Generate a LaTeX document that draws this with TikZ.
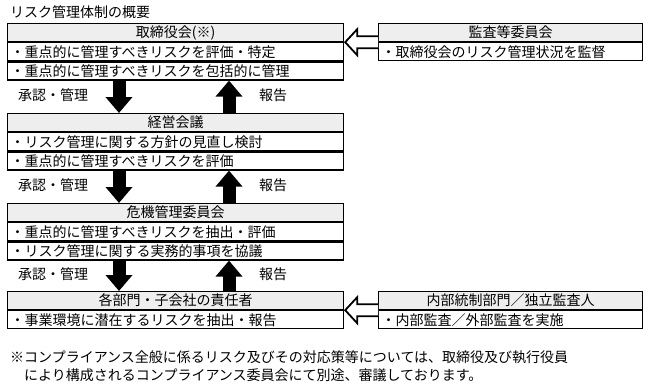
\documentclass[tikz,border=0pt]{standalone}
\usepackage{fontspec}
\setmainfont{Noto Sans CJK JP}
\usetikzlibrary{arrows.meta,calc}
\definecolor{hdrgray}{RGB}{238,238,238}
\begin{document}
\begin{tikzpicture}[x=1pt,y=-1pt,
  every node/.style={font=\fontsize{14}{16}\selectfont, inner sep=0pt},
  hdr/.style={draw, line width=1.2pt, fill=hdrgray, anchor=north west, minimum height=18pt, align=center},
  row/.style={draw, line width=1.2pt, anchor=north west, minimum height=18pt, inner xsep=3pt, align=left},
  solidarr/.style={line width=13pt, -{Triangle[width=26pt,length=16pt]}},
  hollow/.style={draw, line width=1.8pt, fill=white, line join=miter}]
\useasboundingbox (0,0) rectangle (648,389);

\node[anchor=west] (title) at (10,12) {リスク管理体制の概要};

% Box 1
\node[hdr, minimum width=336pt] (b1h) at (7,23) {取締役会(※)};
\node[row, text width=330pt] (b1r1) at (b1h.south west) {・重点的に管理すべきリスクを評価・特定};
\node[row, text width=330pt] (b1r2) at (b1r1.south west) {・重点的に管理すべきリスクを包括的に管理};

% Audit box
\node[hdr, minimum width=264pt] (ah) at (378,23) {監査等委員会};
\node[row, text width=258pt] (ar1) at (ah.south west) {・取締役会のリスク管理状況を監督};

% Box 2
\node[hdr, minimum width=336pt] (b2h) at (7,113) {経営会議};
\node[row, text width=330pt] (b2r1) at (b2h.south west) {・リスク管理に関する方針の見直し検討};
\node[row, text width=330pt] (b2r2) at (b2r1.south west) {・重点的に管理すべきリスクを評価};

% Box 3
\node[hdr, minimum width=336pt] (b3h) at (7,203) {危機管理委員会};
\node[row, text width=330pt] (b3r1) at (b3h.south west) {・重点的に管理すべきリスクを抽出・評価};
\node[row, text width=330pt] (b3r2) at (b3r1.south west) {・リスク管理に関する実務的事項を協議};

% Box 4
\node[hdr, minimum width=336pt] (b4h) at (7,291) {各部門・子会社の責任者};
\node[row, text width=330pt] (b4r1) at (b4h.south west) {・事業環境に潜在するリスクを抽出・報告};

% Internal audit box
\node[hdr, minimum width=264pt] (ih) at (378,291) {内部統制部門／独立監査人};
\node[row, text width=258pt] (ir1) at (ih.south west) {・内部監査／外部監査を実施};

% Labels
\node (l1) at (53,95) {承認・管理};
\node (r1) at (273,95) {報告};
\node (l2) at (53,185) {承認・管理};
\node (r2) at (273,185) {報告};
\node (l3) at (53,274) {承認・管理};
\node (r3) at (273,274) {報告};

% Solid arrows
\draw[solidarr] ($(b1r2.south west)+(112,0)$) -- ($(b2h.north west)+(112,0)$);
\draw[solidarr] ($(b2h.north west)+(222,0)$) -- ($(b1r2.south west)+(222,0)$);
\draw[solidarr] ($(b2r2.south west)+(112,0)$) -- ($(b3h.north west)+(112,0)$);
\draw[solidarr] ($(b3h.north west)+(222,0)$) -- ($(b2r2.south west)+(222,0)$);
\draw[solidarr] ($(b3r2.south west)+(112,0)$) -- ($(b4h.north west)+(112,0)$);
\draw[solidarr] ($(b4h.north west)+(222,0)$) -- ($(b3r2.south west)+(222,0)$);

% Hollow arrows
\draw[hollow] ($(ah.south west)+(0,-6)$) -- ($(b1h.south east)+(13,-6)$) -- ($(b1h.south east)+(13,-13)$) -- ($(b1h.south east)+(1,0)$) -- ($(b1h.south east)+(13,13)$) -- ($(b1h.south east)+(13,6)$) -- ($(ah.south west)+(0,6)$);
\draw[hollow] ($(ih.south west)+(0,-6)$) -- ($(b4h.south east)+(13,-6)$) -- ($(b4h.south east)+(13,-13)$) -- ($(b4h.south east)+(1,0)$) -- ($(b4h.south east)+(13,13)$) -- ($(b4h.south east)+(13,6)$) -- ($(ih.south west)+(0,6)$);

% Footnote
\node[anchor=west] (fn1) at (10,357) {※コンプライアンス全般に係るリスク及びその対応策等については、取締役及び執行役員};
\node[anchor=west] (fn2) at (24,375) {により構成されるコンプライアンス委員会にて別途、審議しております。};
\end{tikzpicture}
\end{document}
